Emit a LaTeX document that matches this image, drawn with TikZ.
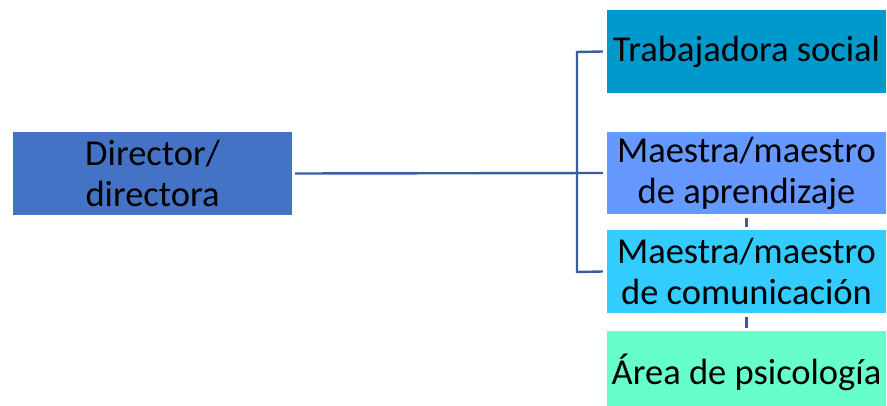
\documentclass[tikz,border=0pt]{standalone}
\usepackage{fontspec}
\setmainfont{Carlito}
\definecolor{dirblue}{HTML}{4472C4}
\definecolor{tsblue}{HTML}{0099CC}
\definecolor{apblue}{HTML}{6699FF}
\definecolor{cmblue}{HTML}{33CCFF}
\definecolor{psgreen}{HTML}{66FFCC}
\definecolor{linec}{HTML}{3A5DA0}
\tikzset{
  box/.style={rectangle, inner sep=0pt, minimum width=279pt, minimum height=83pt,
    align=center, text=black, font=\fontsize{36.5}{41}\selectfont},
  conn/.style={draw=linec, line width=2.4pt},
}
\begin{document}
\begin{tikzpicture}[x=1pt,y=-1pt]
\useasboundingbox (0,0) rectangle (887,406);
\clip (0,0) rectangle (887,406);
\node[box, fill=dirblue] (dir) at (152.5,173.5) {Director/\\directora};
\node[box, fill=tsblue] (b1) at (746.5,51.5) {Trabajadora social};
\node[box, fill=apblue, minimum height=82pt] (b2) at (746.5,173) {Maestra/maestro\\de aprendizaje};
\node[box, fill=cmblue] (b3) at (746.5,271.5) {Maestra/maestro\\de comunicación};
\node[box, fill=psgreen] (b4) at (746.5,372.5) {Área de psicología};
\coordinate (jt) at (577,52);
\coordinate (jb) at (577,272);
\draw[conn, shorten <=3pt, shorten >=4pt] (dir.east) -- (b2.west);
\draw[conn] ([xshift=-4pt]b1.west) -- (jt) -- (jb) -- ([xshift=-4pt]b3.west);
\draw[conn, shorten <=4pt, shorten >=3pt] (b2.south) -- (b3.north);
\draw[conn, shorten <=4pt, shorten >=3pt] (b3.south) -- (b4.north);
\end{tikzpicture}
\end{document}
